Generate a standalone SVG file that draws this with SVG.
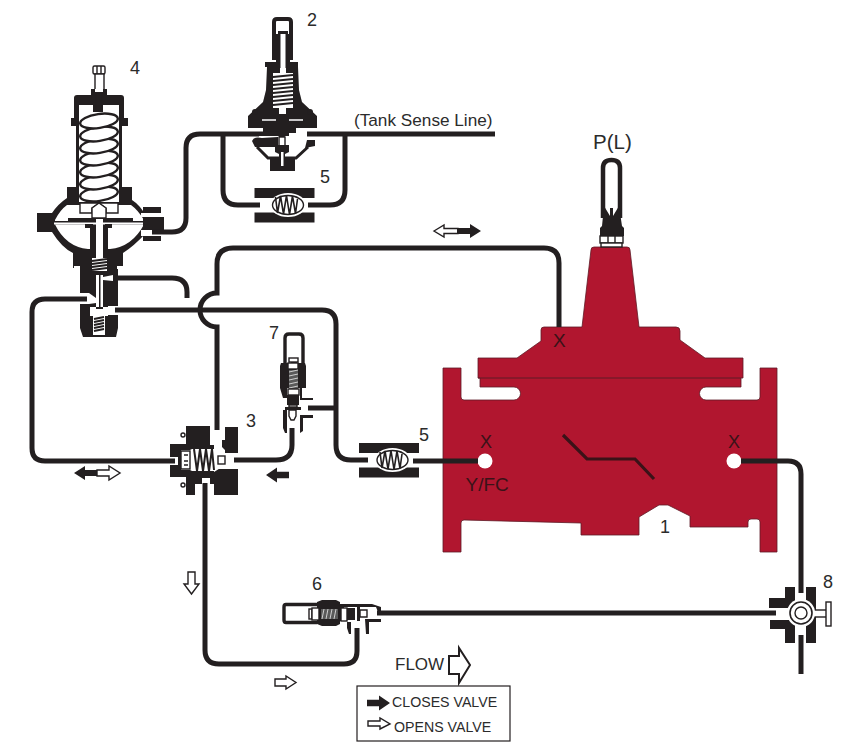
<svg xmlns="http://www.w3.org/2000/svg" width="845" height="753" viewBox="0 0 845 753">
<style>
.pipe{fill:none;stroke:#231f20;stroke-width:5;stroke-linecap:butt}
.k{fill:#231f20}
.w{fill:#fff}
.ws{fill:#fff;stroke:#231f20;stroke-width:1.4}
.ln{fill:none;stroke:#231f20;stroke-width:1.4}
.coil{fill:none;stroke:#231f20;stroke-width:1.6}
.red{fill:#b1162f;stroke:#5e1a26;stroke-width:.8}
text{font-family:"Liberation Sans",Arial,sans-serif;fill:#2b2b2b}
.n{font-size:18px}
.x{font-size:18px;fill:#3a1218}
.leg{font-size:14.200px}
</style>
<defs>
<path id="arrow" d="M0,-3.2H12V-7.5L23,0L12,7.5V3.2H0Z"/>
<g id="strainer">
<rect class="k" x="-30" y="-17" width="60" height="10"/>
<rect class="k" x="-30" y="7.500" width="60" height="10"/>
<ellipse class="w" cx="3.500" cy="0" rx="18" ry="12"/>
<ellipse class="ws" cx="3.500" cy="0" rx="15.500" ry="9.500"/>
<path class="coil" d="M-9,-8L-7,8L-4,-9L-1,9L2,-9.500L5,9.500L8,-9L11,8.500L13,-6"/>
</g>
</defs>

<g id="main-valve">
<path class="red" d="M443,368H461V397Q461,400 464,400H514A6.500,6.500 0 0 0 514,387H480V378H478V358H517L541,341V330Q541,327 544,327H582L591,250Q591,247 594,247H627Q630,247 630,250L639,327H676Q680,327 680,331V340L705,358H743V378H741V387H706A6.500,6.500 0 0 0 706,400H757Q760,400 760,397V368H777V552H760V522Q760,519 757,519H751Q748,519 748,522V527H690V516L668,505H659L639,517V535H581V523L464,520Q461,520 461,523V552H443Z"/>
<path d="M478,378H741" fill="none" stroke="#5e1a26" stroke-width="1"/>
<path d="M563,435L587,459H635L654,479" fill="none" stroke="#3a1218" stroke-width="3.200"/>
<circle class="w" cx="485" cy="461" r="7.500"/>
<circle class="w" cx="734" cy="461" r="7.500"/>
<text class="x" x="553" y="347" style="font-size:19px">X</text>
<text class="x" x="480" y="448">X</text>
<text class="x" x="728" y="448">X</text>
<text class="x" x="465.500" y="491" style="font-size:19px">Y/FC</text>
<text class="n" x="660" y="533">1</text>
</g>

<g id="gauge">
<path d="M603,218V168Q603,160 611.500,160Q620,160 620,168V218" fill="none" stroke="#231f20" stroke-width="4.500"/>
<path class="k" d="M604,206L610,216V208H613V216L619,206L622,226L624,228V236H600V228L602,226Z"/>
<rect class="ws" x="600" y="236" width="23" height="7"/>
<path class="ln" d="M608,236V243M615,236V243"/>
<rect class="ws" x="601" y="243" width="21" height="4"/>
<text x="593" y="149" style="font-size:20.500px">P(L)</text>
</g>

<g id="pilot-4">
<rect class="ws" x="93" y="66" width="12" height="8" rx="1.500"/>
<path class="ln" d="M97,66V74M101,66V74"/>
<rect class="ws" x="95" y="74" width="9" height="18"/>
<path class="k" d="M91,89H107V95H121Q124,95 124,98V118H128V126H122V187H132V200Q140,205 146,216V233Q134,246 123,253V268H118V328L116,337H83L80,328V268H73V253Q62,248 52,232H37V213H52Q58,204 67,198V187H76V126H71V118H74V98Q74,95 77,95H91Z"/>
<path class="w" d="M79,105H93V112H103V105H119V202H79Z"/>
<rect class="w" x="95" y="89" width="8" height="3"/>
<path class="ln" d="M96,92V110M102,92V110" style="stroke-width:1.600"/>
<g fill="#fff" stroke="#231f20" stroke-width="2.400">
<ellipse cx="99" cy="194" rx="19" ry="7" transform="rotate(-8 99 194)"/>
<ellipse cx="99" cy="182" rx="19" ry="7" transform="rotate(-8 99 182)"/>
<ellipse cx="99" cy="170" rx="19" ry="7" transform="rotate(-8 99 170)"/>
<ellipse cx="99" cy="158" rx="19" ry="7" transform="rotate(-8 99 158)"/>
<ellipse cx="99" cy="146" rx="19" ry="7" transform="rotate(-8 99 146)"/>
<ellipse cx="99" cy="134" rx="19" ry="7" transform="rotate(-8 99 134)"/>
<ellipse cx="99" cy="121" rx="19" ry="7" transform="rotate(-8 99 121)"/>
</g>
<path class="w" d="M67,205Q60,210 55,220V221H144V220Q138,210 131,205H118V213H80V205Z"/>
<path class="ws" d="M80,203H118V213H106V208L99,203L92,208V213H80Z"/>
<path class="ws" d="M92,208L99,203L106,208V218H92Z"/>
<rect class="k" x="68" y="218" width="65" height="4.500"/>
<rect class="w" x="54" y="222.500" width="90" height="2"/>
<path class="w" d="M55,224.500H85V228H90V249H88Q66,247 55,224.500ZM144,224.500H111V228H108V249H110Q132,247 144,224.500Z"/>
<rect class="k" x="85" y="224" width="8" height="4"/>
<rect class="k" x="105" y="224" width="7" height="4"/>
<rect class="k" x="90" y="228" width="5" height="21"/>
<rect class="k" x="103" y="228" width="5" height="21"/>
<rect class="w" x="96" y="219" width="7" height="39"/>
<rect class="w" x="92" y="258" width="15" height="13"/>
<path class="coil" d="M92,261L107,259M92,264L107,262M92,267L107,265M92,270L107,268" style="stroke-width:1.800"/>
<path class="w" d="M74,266H80V269H74ZM117,266H123V269H117Z"/>
<rect class="w" x="96" y="275" width="7" height="32"/>
<path class="k" d="M99,275H100.500V307H99Z"/>
<path class="w" d="M103,277L113,275V281L103,280Z"/>
<path class="w" d="M78,293H89L96,298V303L89,304H78Z"/>
<path class="w" d="M108,306H120V315H108Z"/>
<rect class="w" x="90" y="307" width="18" height="9"/>
<rect class="k" x="96" y="307" width="7" height="2"/>
<rect class="w" x="93" y="316" width="12" height="19"/>
<path class="coil" d="M94,319L104,317M94,322L104,320M94,325L104,323M94,328L104,326M94,331L104,329" style="stroke-width:1.800"/>
<path class="w" d="M141,213H146V217H141ZM141,230H150V236H141Z"/>
<path class="k" d="M143,207H161V213H143ZM143,217H164V230H143ZM143,236H161V241H143Z"/>
<text class="n" x="130" y="74">4</text>
</g>

<g id="pilot-2">
<path d="M274,60V22Q274,19 277,19H288Q291,19 291,22V60" fill="none" stroke="#231f20" stroke-width="4"/>
<path class="k" d="M278,31H288V34H290V60H276V34H278Z"/>
<path class="k" d="M265,62H276V58H290V62H298V67L299,90L302,102L317,116V128H296V133H263V128H248V116L263,102L266,90L267,67H265Z"/>
<rect class="w" x="280.500" y="34" width="5" height="36"/>
<path class="w" d="M273,73H280V68H286V73H293V108H286V114H279V108H273Z"/>
<path class="coil" d="M273,77L293,75M273,81L293,79M273,85L293,83M273,89L293,87M273,93L293,91M273,97L293,95M273,101L293,99M273,105L293,103" style="stroke-width:2"/>
<path d="M262,120H276M289,120H303" class="ln" style="stroke:#fff"/>
<circle class="k" cx="255" cy="112" r="3"/><circle class="k" cx="310" cy="112" r="3"/>
<path class="k" d="M259,131.500H279V136H259ZM279,128H289V136H285L284,139H279Z"/>
<path class="k" d="M252,141Q254,136 262,138L278,137V147H262L255,147ZM307,140H315V146L305,148Z"/>
<path d="M257,147L268,158H296L308,147" fill="none" stroke="#231f20" stroke-width="3"/>
<rect class="k" x="270" y="159" width="25" height="12"/>
<rect class="ws" x="279" y="137" width="6" height="10"/>
<path class="k" d="M275,145H289V152L285,154V160H279V154L275,152Z"/>
<rect class="w" x="281" y="152" width="2.500" height="14"/>
<text class="n" x="307" y="26">2</text>
<text x="354" y="126" style="font-size:17.200px">(Tank Sense Line)</text>
</g>

<g id="strainer-upper">
<use href="#strainer" x="284.500" y="205"/>
<text class="n" x="320" y="183">5</text>
</g>

<g id="strainer-lower">
<use href="#strainer" x="389" y="460"/>
<text class="n" x="419" y="441">5</text>
</g>

<g id="valve-3">
<path class="k" d="M186,426H210V445H186ZM225,427H238V453H225V450L222,447V440H225ZM170,444H186V457H170ZM170,465H186V477H170ZM210,469H238V495H214V484H210ZM186,478H202V484H195V495H186Z"/>
<circle class="ws" cx="183" cy="435" r="2"/><circle class="ws" cx="183" cy="485" r="2"/>
<path class="k" d="M186,445H214V450L222,454V466L214,470V478H186V472L178,470V450L186,448Z"/>
<path class="w" d="M181,450H190L194,448H214L222,453H226V467H222L214,472H194L190,470H181Z"/>
<path class="coil" d="M194,449L197,471L200,449L203,471L206,449L209,471L212,449L214,470" style="stroke-width:2"/>
<path class="ln" d="M181,451H190V469H181ZM184,455H188M184,461H188M184,465H188"/>
<path class="k" d="M186,446H214V449H186ZM186,471H214V478H186Z"/>
<rect class="ws" x="218" y="456" width="7" height="8"/>
<text class="n" x="246" y="427">3</text>
</g>

<g id="valve-7">
<path d="M285,364V338Q285,334 289,334H299Q303,334 303,338V364" fill="none" stroke="#231f20" stroke-width="3.400"/>
<path class="k" d="M281,363H291V358H297V363H305L306,366V388H302V398H313V400H300V388H287V398H283L280,388V366Z"/>
<rect class="ws" x="289" y="358" width="9" height="4"/>
<rect class="ws" x="288" y="363" width="10" height="6"/>
<rect fill="#5a5a5a" x="289" y="370" width="9" height="19"/>
<path class="coil" d="M289,372L298,370M289,376L298,374M289,380L298,378M289,384L298,382M289,388L298,386" style="stroke:#cfcfcf;stroke-width:1"/>
<rect class="ws" x="288" y="389" width="11" height="6"/>
<rect class="k" x="287" y="395" width="12" height="10"/>
<rect class="ws" x="289" y="405" width="8" height="2"/>
<rect class="k" x="285" y="407" width="16" height="3"/>
<path class="ws" d="M289,410H296V416L294,420H291L289,416Z"/>
<path class="k" d="M283,410H287V433H285L283,428ZM300,415H313V418H303V431L300,433Z"/>
<text class="n" x="269" y="339">7</text>
</g>

<g id="valve-6">
<path d="M317,604.500H286Q284,604.500 284,607V620Q284,622.500 286,622.500H317" fill="none" stroke="#231f20" stroke-width="3.400"/>
<path class="k" d="M317,602L322,600H336L340,602V604H372L381,607V612H378L376,607H344V621H340V624L336,626H322L317,624Z"/>
<rect class="ws" x="309" y="609" width="3" height="10"/>
<rect class="ws" x="312" y="608" width="7" height="12"/>
<rect fill="#5a5a5a" x="321" y="609" width="17" height="10"/>
<path class="coil" d="M322,619L324,609M326,619L328,609M330,619L332,609M334,619L336,609" style="stroke:#cfcfcf;stroke-width:1"/>
<rect class="ws" x="341" y="608" width="6" height="13"/>
<rect class="k" x="347" y="608" width="8" height="12"/>
<rect class="k" x="357" y="606" width="3" height="15"/>
<path class="ws" d="M360,610H367V617H360Z"/>
<path class="k" d="M347,622H351V634H349L347,628ZM365,619H381V622H369V634H366Z"/>
<text class="n" x="312" y="590">6</text>
</g>

<g id="valve-8">
<path class="k" d="M785,587H795V643H785V629H770V620H790V608H769V598H785ZM806,587H816V643H806Z"/>
<rect class="w" x="795" y="587" width="11" height="6"/>
<rect class="w" x="769" y="608" width="24" height="12"/>
<rect class="ws" x="810" y="610" width="17" height="7"/>
<rect class="ws" x="826" y="602" width="5" height="24"/>
<circle fill="#fff" cx="801" cy="613" r="14"/>
<circle class="ws" cx="801" cy="613" r="11" style="stroke-width:1.600"/>
<circle class="ws" cx="801" cy="613" r="6" style="stroke-width:1.400"/>
<rect class="w" x="795" y="627" width="11" height="8"/>
<text class="n" x="823" y="588">8</text>
</g>

<g id="connectors">
<path class="pipe" d="M259,134H200Q186,134 186,148V218Q186,232 172,232H152"/>
<path class="pipe" d="M307,134H495"/>
<path class="pipe" d="M223,134V190Q223,205 238,205H260"/>
<path class="pipe" d="M345,134V190Q345,205 330,205H308"/>
<path class="pipe" d="M113,278H172Q187,278 187,292V298"/>
<path class="pipe" d="M87,299H45Q32,299 32,312V448Q32,461 45,461H175"/>
<path class="pipe" d="M115,310H322Q336,310 336,324V445Q336,460 351,460H368"/>
<path class="pipe" d="M336,408H308"/>
<path class="pipe" d="M217,430V327A17,17 0 0 1 217,293V264Q217,248 233,248H544Q559,248 559,263V327"/>
<path class="pipe" d="M234,460H276Q292,460 292,445V428"/>
<path class="pipe" d="M205,483V650Q205,664 219,664H344Q357,664 357,651V628"/>
<path class="pipe" d="M377,613H776"/>
<path class="pipe" d="M413,461H478"/>
<path class="pipe" d="M741,461H788Q801,461 801,474V593"/>
<path class="pipe" d="M801,635V674"/>
</g>

<g id="flow-arrows">
<path class="ws" d="M434,231L444,225V228.500H458V233.500H444V237Z"/>
<path class="k" d="M457,228H470V224L481,231L470,238V234H457Z"/>
<path class="k" d="M74,473L85,466V470H98V476H85V480Z"/>
<path class="ws" d="M97,470H109V466L120,473L109,480V476H97Z"/>
<use href="#arrow" class="k" transform="translate(289 475) rotate(180)"/>
<path class="ws" d="M188,572H195V584H199L191.500,594L184,584H188Z"/>
<path class="ws" d="M275,679H286V676L296,682.500L286,689V686H275Z"/>
</g>

<g id="legend">
<text x="395" y="670" style="font-size:17px">FLOW</text>
<path class="ws" d="M449,656H459V648L470,665L459,683V674H449Z" style="stroke-width:2"/>
<rect x="357" y="686" width="153" height="55" fill="#fff" stroke="#231f20" stroke-width="1.200"/>
<use href="#arrow" class="k" x="367" y="703"/>
<text class="leg" x="392" y="707">CLOSES VALVE</text>
<path class="ws" d="M368,721H380V718L390,724L380,729V726H368Z"/>
<text class="leg" x="394" y="732">OPENS VALVE</text>
</g>
</svg>
